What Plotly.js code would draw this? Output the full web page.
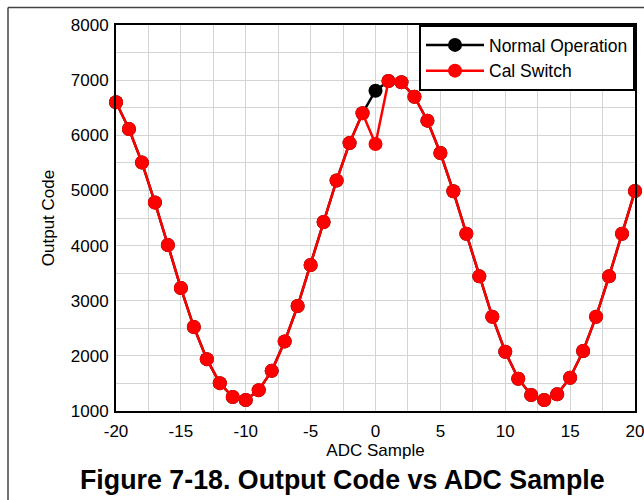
<!DOCTYPE html>
<html>
<head>
<meta charset="utf-8">
<script src="https://cdn.plot.ly/plotly-3.0.1.min.js"></script>
<style>html,body{margin:0;padding:0;background:#fff;}#chart{width:644px;height:500px;}</style>
</head>
<body>
<div id="chart"></div>
<script>
var adcSample = [-20,-19,-18,-17,-16,-15,-14,-13,-12,-11,-10,-9,-8,-7,-6,-5,-4,-3,-2,-1,0,1,2,3,4,5,6,7,8,9,10,11,12,13,14,15,16,17,18,19,20];
var normalOperation = [6600,6115,5505,4780,4010,3230,2523,1940,1505,1254,1200,1378,1728,2262,2904,3647,4427,5180,5858,6400,6809,6984,6961,6700,6265,5679,4984,4215,3442,2710,2075,1586,1290,1200,1302,1604,2088,2710,3442,4215,4990];
var calSwitch = [6600,6115,5505,4780,4010,3230,2523,1940,1505,1254,1200,1378,1728,2262,2904,3647,4427,5180,5858,6400,5842,6984,6961,6700,6265,5679,4984,4215,3442,2710,2075,1586,1290,1200,1302,1604,2088,2710,3442,4215,4990];
var seriesNames = ["Normal Operation", "Cal Switch"];
var xTickVals = [-20, -15, -10, -5, 0, 5, 10, 15, 20];
var xTickText = ["-20", "-15", "-10", "-5", "0", "5", "10", "15", "20"];
var yTickVals = [1000, 2000, 3000, 4000, 5000, 6000, 7000, 8000];
var yTickText = ["1000", "2000", "3000", "4000", "5000", "6000", "7000", "8000"];
var xTitle = "ADC Sample";
var yTitle = "Output Code";
var figTitle = "Figure 7-18. Output Code vs ADC Sample";

var font = "Liberation Sans, Arial, sans-serif";
var traces = [
  {x: adcSample, y: normalOperation, name: seriesNames[0], type: "scatter", mode: "lines+markers",
   line: {color: "#000000", width: 2.5}, marker: {color: "#000000", size: 14}, cliponaxis: false},
  {x: adcSample, y: calSwitch, name: seriesNames[1], type: "scatter", mode: "lines+markers",
   line: {color: "#ff0000", width: 2.5}, marker: {color: "#ff0000", size: 14}, cliponaxis: false}
];
var layout = {
  width: 644, height: 500,
  margin: {l: 116, r: 9, t: 25, b: 89},
  paper_bgcolor: "#ffffff", plot_bgcolor: "#ffffff",
  font: {family: font, size: 17, color: "#000"},
  showlegend: true,
  legend: {x: 1, xanchor: "right", y: 1, yanchor: "top", bgcolor: "#ffffff",
           bordercolor: "#000000", borderwidth: 2, font: {family: font, size: 17.5, color: "#000"},
           itemwidth: 58, tracegroupgap: 0},
  xaxis: {range: [-20, 20], tickmode: "array", tickvals: xTickVals, ticktext: xTickText,
          showline: true, mirror: true, linecolor: "#000", linewidth: 2,
          showgrid: true, gridcolor: "#d4d4d4", gridwidth: 1, zeroline: false, ticks: "",
          minor: {dtick: 2.5, tick0: 0, showgrid: true, gridcolor: "#d4d4d4", gridwidth: 1},
          tickfont: {family: font, size: 17}, ticklabelstandoff: 4, ticklabeloverflow: "allow",
          title: {text: xTitle, font: {family: font, size: 17}, standoff: 2}},
  yaxis: {range: [1000, 8000], tickmode: "array", tickvals: yTickVals, ticktext: yTickText,
          showline: true, mirror: true, linecolor: "#000", linewidth: 2,
          showgrid: true, gridcolor: "#d4d4d4", gridwidth: 1, zeroline: false, ticks: "",
          minor: {dtick: 500, tick0: 0, showgrid: true, gridcolor: "#d4d4d4", gridwidth: 1},
          tickfont: {family: font, size: 17}, ticklabelstandoff: 2, ticklabeloverflow: "allow",
          title: {text: yTitle, font: {family: font, size: 17}, standoff: 12}},
  annotations: [
    {text: "<b>" + figTitle + "</b>", xref: "paper", yref: "paper", x: (342 - 116) / 519, y: (411 - 480) / 386,
     xanchor: "center", yanchor: "middle", showarrow: false, font: {family: font, size: 26.8, color: "#000"}}
  ],
  shapes: [
    {type: "line", xref: "paper", yref: "paper", x0: (8 - 116) / 519, x1: (644 - 116) / 519, y0: (411 - 7.5) / 386, y1: (411 - 7.5) / 386,
     line: {color: "#444", width: 1.5}},
    {type: "line", xref: "paper", yref: "paper", x0: (8 - 116) / 519, x1: (8 - 116) / 519, y0: (411 - 7.5) / 386, y1: (411 - 500) / 386,
     line: {color: "#444", width: 1.5}}
  ]
};
Plotly.newPlot("chart", traces, layout, {displayModeBar: false, staticPlot: true});
</script>
</body>
</html>
